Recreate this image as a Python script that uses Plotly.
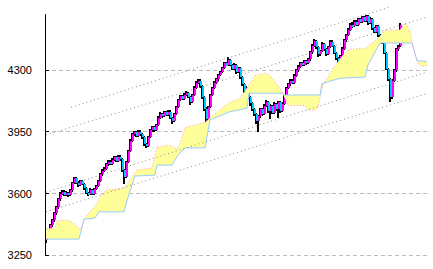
import plotly.graph_objects as go

# ---- candle data (daily OHLC) ----
opens = [3335, 3352, 3385, 3420, 3448, 3490, 3522, 3570, 3600, 3612,
         3592, 3606, 3590, 3618, 3660, 3688, 3662, 3650, 3672, 3656,
         3630, 3606, 3596, 3622, 3600, 3626, 3642, 3672, 3710, 3730,
         3742, 3766, 3782, 3770, 3792, 3806, 3786, 3810, 3796, 3732,
         3692, 3780, 3842, 3900, 3936, 3948, 3930, 3952, 3936, 3920,
         3880, 3872, 3920, 3960, 3976, 3960, 3988, 4030, 4052, 4040,
         4062, 4046, 4066, 4030, 4010, 4052, 4092, 4132, 4152, 4140,
         4162, 4172, 4150, 4120, 4160, 4202, 4230, 4242, 4210, 4150,
         4082, 4022, 4090, 4160, 4200, 4230, 4250, 4272, 4290, 4312,
         4340, 4330, 4360, 4330, 4310, 4332, 4290, 4312, 4262, 4222,
         4180, 4202, 4150, 4112, 4080, 4050, 4010, 4040, 4080, 4050,
         4100, 4122, 4070, 4100, 4060, 4110, 4080, 4120, 4070, 4110,
         4150, 4200, 4220, 4240, 4230, 4270, 4300, 4320, 4342, 4330,
         4352, 4340, 4362, 4402, 4440, 4466, 4430, 4390, 4410, 4450,
         4420, 4392, 4430, 4462, 4440, 4400, 4370, 4340, 4380, 4422,
         4470, 4500, 4530, 4560, 4550, 4576, 4560, 4590, 4575, 4600,
         4580, 4606, 4570, 4592, 4540, 4520, 4550, 4500, 4480, 4462,
         4400, 4310, 4250, 4150, 4240, 4300, 4420, 4440]
closes = [3352, 3385, 3420, 3448, 3490, 3522, 3570, 3600, 3612, 3592,
          3606, 3590, 3618, 3660, 3688, 3662, 3650, 3672, 3656, 3630,
          3606, 3596, 3622, 3600, 3626, 3642, 3672, 3710, 3730, 3742,
          3766, 3782, 3770, 3792, 3806, 3786, 3810, 3796, 3732, 3692,
          3780, 3842, 3900, 3936, 3948, 3930, 3952, 3936, 3920, 3880,
          3872, 3920, 3960, 3976, 3960, 3988, 4030, 4052, 4040, 4062,
          4046, 4066, 4030, 4010, 4052, 4092, 4132, 4152, 4140, 4162,
          4172, 4150, 4120, 4160, 4202, 4230, 4242, 4210, 4150, 4082,
          4022, 4090, 4160, 4200, 4230, 4250, 4272, 4290, 4312, 4340,
          4330, 4360, 4330, 4310, 4332, 4290, 4312, 4262, 4222, 4180,
          4202, 4150, 4112, 4080, 4050, 4010, 4040, 4080, 4050, 4100,
          4122, 4070, 4100, 4060, 4110, 4080, 4120, 4070, 4110, 4150,
          4200, 4220, 4240, 4230, 4270, 4300, 4320, 4342, 4330, 4352,
          4340, 4362, 4402, 4440, 4466, 4430, 4390, 4410, 4450, 4420,
          4392, 4430, 4462, 4440, 4400, 4370, 4340, 4380, 4422, 4470,
          4500, 4530, 4560, 4550, 4576, 4560, 4590, 4575, 4600, 4580,
          4606, 4570, 4592, 4540, 4520, 4550, 4500, 4480, 4462, 4400,
          4310, 4250, 4150, 4240, 4300, 4420, 4432, 4560]
highs = [3370, 3392, 3428, 3458, 3498, 3530, 3578, 3612, 3622, 3620,
         3615, 3612, 3625, 3668, 3695, 3694, 3670, 3680, 3678, 3660,
         3636, 3612, 3630, 3628, 3634, 3650, 3680, 3718, 3740, 3750,
         3775, 3790, 3790, 3800, 3815, 3812, 3818, 3818, 3800, 3740,
         3788, 3850, 3910, 3945, 3958, 3955, 3962, 3960, 3942, 3926,
         3890, 3928, 3968, 3985, 3982, 3995, 4038, 4062, 4060, 4070,
         4068, 4074, 4072, 4036, 4060, 4100, 4140, 4162, 4160, 4170,
         4180, 4178, 4156, 4168, 4210, 4240, 4250, 4248, 4216, 4156,
         4090, 4098, 4168, 4208, 4238, 4258, 4280, 4298, 4320, 4348,
         4350, 4375, 4366, 4336, 4340, 4338, 4320, 4318, 4268, 4228,
         4210, 4208, 4156, 4118, 4086, 4056, 4048, 4088, 4086, 4108,
         4130, 4128, 4108, 4106, 4118, 4116, 4128, 4126, 4118, 4158,
         4208, 4228, 4248, 4250, 4278, 4308, 4330, 4350, 4350, 4360,
         4360, 4370, 4410, 4450, 4478, 4472, 4436, 4418, 4458, 4456,
         4426, 4438, 4470, 4470, 4446, 4406, 4376, 4388, 4430, 4478,
         4508, 4538, 4568, 4572, 4584, 4584, 4598, 4598, 4610, 4608,
         4614, 4612, 4600, 4598, 4548, 4558, 4556, 4508, 4488, 4468,
         4406, 4316, 4256, 4248, 4310, 4428, 4442, 4568]
lows = [3322, 3345, 3378, 3412, 3440, 3480, 3515, 3560, 3590, 3585,
        3585, 3582, 3585, 3612, 3652, 3655, 3640, 3645, 3648, 3622,
        3598, 3588, 3590, 3592, 3595, 3618, 3636, 3665, 3702, 3722,
        3735, 3758, 3762, 3765, 3785, 3778, 3780, 3788, 3722, 3655,
        3686, 3774, 3836, 3892, 3928, 3920, 3924, 3928, 3910, 3870,
        3860, 3866, 3914, 3952, 3950, 3954, 3982, 4022, 4032, 4034,
        4038, 4040, 4022, 3995, 4004, 4046, 4086, 4125, 4132, 4134,
        4155, 4142, 4105, 4114, 4154, 4195, 4222, 4202, 4140, 4070,
        3965, 4015, 4084, 4152, 4192, 4222, 4242, 4265, 4282, 4305,
        4322, 4324, 4322, 4300, 4304, 4280, 4284, 4252, 4212, 4170,
        4172, 4140, 4100, 4070, 4040, 3998, 3950, 4032, 4040, 4044,
        4094, 4060, 4025, 4050, 4054, 4070, 4030, 4060, 4062, 4104,
        4144, 4192, 4212, 4222, 4224, 4262, 4292, 4312, 4322, 4324,
        4332, 4334, 4355, 4395, 4432, 4420, 4375, 4382, 4404, 4412,
        4380, 4386, 4424, 4432, 4390, 4360, 4328, 4334, 4374, 4416,
        4462, 4492, 4522, 4542, 4544, 4552, 4554, 4566, 4568, 4572,
        4574, 4560, 4562, 4530, 4510, 4514, 4490, 4470, 4452, 4390,
        4300, 4240, 4120, 4140, 4232, 4292, 4410, 4432]

# ---- Ichimoku cloud (leading spans, x = bar index incl. 26-bar shift) ----
span_a_x = [-1, 4.5, 5.5, 9.5, 12, 15, 17, 18, 20, 23, 25.5, 27, 30, 39, 41,
            44, 45.5, 53, 55.5, 62, 65.5, 67, 69.5, 79.5, 82, 85.5, 89.5, 92,
            97, 104.5, 109.5, 112, 116, 118.5, 121, 129.5, 131, 135, 136,
            138.5, 143.5, 148.5, 152, 159.5, 166, 169.5, 177, 179.5, 182,
            183.5, 186, 188, 191]
span_a = [3400, 3405, 3445, 3450, 3445, 3420, 3395, 3420, 3470, 3510, 3545,
          3580, 3620, 3630, 3660, 3710, 3735, 3745, 3865, 3875, 3850, 3885,
          3975, 4005, 4030, 4065, 4100, 4120, 4140, 4270, 4285, 4270, 4215,
          4165, 4100, 4100, 4075, 4075, 4090, 4216, 4312, 4386, 4420, 4425,
          4480, 4525, 4530, 4568, 4530, 4430, 4340, 4322, 4332]
span_b_x = [-1, 16.5, 19, 24.5, 26.5, 39, 40.5, 42.5, 44.5, 54.5, 55.5, 63,
            65.5, 67, 69.5, 79.5, 82, 92, 100.5, 101.5, 118.5, 119.5, 137,
            138, 147, 159.5, 161, 167, 183, 185.5, 191]
span_b = [3342, 3342, 3455, 3462, 3497, 3497, 3560, 3630, 3700, 3705, 3762,
          3762, 3810, 3830, 3860, 3860, 4020, 4065, 4085, 4170, 4170, 4160,
          4160, 4225, 4255, 4262, 4330, 4455, 4455, 4355, 4350]

# ---- trend channel lines (start/end in bar index, price) ----
channel_x = [[12.5, 172.5], [0, 191], [0, 191], [0, 191]]
channel_y = [[4090, 4661], [3933, 4604], [3608, 4292], [3497, 4170]]

tick_vals = [3250, 3600, 3950, 4300]
axis_top = 4619

UP = "#FF00FF"
DOWN = "#00C8FF"

n = len(closes)
idx = list(range(n))

fig = go.Figure()

# cloud
fig.add_trace(go.Scatter(x=span_b_x, y=span_b, mode="lines",
                         line=dict(color="#99CCFF", width=1), hoverinfo="skip"))
fig.add_trace(go.Scatter(x=span_a_x, y=span_a, mode="lines",
                         line=dict(color="#FF99C8", width=1, dash="1px,2px"),
                         fill="tonexty", fillcolor="#FFFF99", hoverinfo="skip"))

# channel lines
for cx, cy in zip(channel_x, channel_y):
    fig.add_trace(go.Scatter(x=cx, y=cy, mode="lines",
                             line=dict(color="#888888", width=1, dash="1px,3px"),
                             hoverinfo="skip"))

# wicks (thin bars) and bodies, overlaid so bodies sit on top
wick_base = lows
wick_len = [h - l for h, l in zip(highs, lows)]
fig.add_trace(go.Bar(x=idx, y=wick_len, base=wick_base, width=0.5,
                     marker=dict(color="black", line=dict(width=0)),
                     hoverinfo="skip"))

base = [min(o, c) for o, c in zip(opens, closes)]
height = [max(abs(c - o), 3) for o, c in zip(opens, closes)]
colors = [UP if c >= o else DOWN for o, c in zip(opens, closes)]
fig.add_trace(go.Bar(x=idx, y=height, base=base, width=1.0, offset=-0.25,
                     marker=dict(color=colors, line=dict(width=0))))

# y axis line (only spans the labelled range)
fig.add_shape(type="line", xref="x", yref="y", x0=-0.25, x1=-0.25,
              y0=tick_vals[0], y1=axis_top, line=dict(color="black", width=1))

fig.update_layout(
    width=433, height=269,
    margin=dict(l=45, r=6, t=0, b=0),
    paper_bgcolor="white", plot_bgcolor="white",
    showlegend=False, barmode="overlay", bargap=0,
    xaxis=dict(visible=False, range=[-0.5, 190.5]),
    yaxis=dict(range=[3172.3, 4699.1], tickvals=tick_vals,
               ticks="inside", ticklen=4, tickcolor="black", tickwidth=1,
               showgrid=True, gridcolor="#BBBBBB", griddash="4px,3px", gridwidth=1,
               zeroline=False, showline=False, ticklabelstandoff=12,
               tickfont=dict(family="Liberation Sans", size=11, color="black")),
)

fig.write_html("out.html")
